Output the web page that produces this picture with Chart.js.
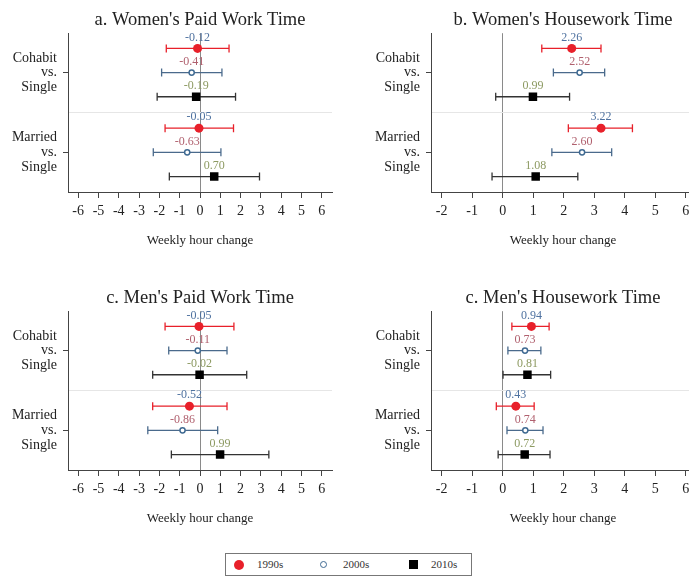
<!DOCTYPE html>
<html lang="en">
  <head>
    <meta charset="UTF-8" />
    <title>Weekly hour change by union status</title>
    <style>
      body { margin: 0; width: 689px; height: 586px; overflow: hidden; background: #fff; position: relative; font-family: "Liberation Serif", "DejaVu Serif", serif; }
      canvas { position: absolute; }
      #legend { position: absolute; left: 225px; top: 553px; width: 245px; height: 21px; border: 1px solid #777; font-size: 11px; color: #333; }
      #legend span { position: absolute; top: 4px; }
      .mk { position: absolute; }
    </style>
  </head>
  <body>
    <canvas id="wPaid" width="400" height="248" style="left:0;top:0"></canvas>
    <canvas id="wHouse" width="436" height="248" style="left:345px;top:0"></canvas>
    <canvas id="mPaid" width="400" height="248" style="left:0;top:278px"></canvas>
    <canvas id="mHouse" width="436" height="248" style="left:345px;top:278px"></canvas>

    <div id="legend">
      <div class="mk" style="left:8px;top:6px;width:10px;height:10px;border-radius:50%;background:#e8202a"></div>
      <span style="left:31px">1990s</span>
      <div class="mk" style="left:94px;top:7px;width:5px;height:5px;border-radius:50%;border:1.5px solid #3f6a92;background:#fff"></div>
      <span style="left:117px">2000s</span>
      <div class="mk" style="left:183px;top:6px;width:9px;height:9px;background:#000"></div>
      <span style="left:205px">2010s</span>
    </div>

    <script src="https://cdn.jsdelivr.net/npm/chart.js"></script>
    <script>
      // order in every array: cohabit 1990s, 2000s, 2010s, then married 1990s, 2000s, 2010s
      const decades = ["1990s", "2000s", "2010s"];
      const comparisons = [["Cohabit", "vs.", "Single"], ["Married", "vs.", "Single"]];
      const paidTicks = [-6, -5, -4, -3, -2, -1, 0, 1, 2, 3, 4, 5, 6];
      const houseTicks = [-2, -1, 0, 1, 2, 3, 4, 5, 6];

      const womenPaidEst = [-0.12, -0.41, -0.19, -0.05, -0.63, 0.70];
      const womenPaidLo = [-1.66, -1.89, -2.11, -1.72, -2.30, -1.51];
      const womenPaidHi = [1.43, 1.08, 1.75, 1.65, 1.03, 2.93];

      const womenHouseEst = [2.26, 2.52, 0.99, 3.22, 2.60, 1.08];
      const womenHouseLo = [1.28, 1.66, -0.23, 2.15, 1.61, -0.35];
      const womenHouseHi = [3.22, 3.34, 2.19, 4.25, 3.57, 2.46];

      const menPaidEst = [-0.05, -0.11, -0.02, -0.52, -0.86, 0.99];
      const menPaidLo = [-1.72, -1.54, -2.33, -2.33, -2.57, -1.41];
      const menPaidHi = [1.67, 1.33, 2.30, 1.33, 0.87, 3.39];

      const menHouseEst = [0.94, 0.73, 0.81, 0.43, 0.74, 0.72];
      const menHouseLo = [0.30, 0.17, 0.01, -0.21, 0.14, -0.15];
      const menHouseHi = [1.52, 1.25, 1.57, 1.03, 1.32, 1.55];

      // layout of the rows on the y scale
      const ROWS = [0, 1, 2, 3.3, 4.3, 5.3];
      const GROUP_TICKS = [1, 4.3];
      const SEP = 2.65;
      const SERIF = '"Liberation Serif", "DejaVu Serif", serif';

      const lineColors = ["#e8202a", "#4a6a8c", "#333333"];
      const markStyle = [
        { pointStyle: "circle", pointRadius: 4.5, backgroundColor: "#e8202a", borderColor: "#e8202a", pointBorderWidth: 0 },
        { pointStyle: "circle", pointRadius: 2.6, backgroundColor: "#ffffff", borderColor: "#3f6a92", pointBorderWidth: 1.5 },
        { pointStyle: "rect", pointRadius: 6, backgroundColor: "#000000", borderColor: "#000000", pointBorderWidth: 0 },
      ];
      const labelColors = ["#4f72a0", "#b0606e", "#8d9a62"];

      const valueLabels = {
        id: "valueLabels",
        afterDatasetsDraw(chart) {
          const { ctx, scales: { x, y } } = chart;
          ctx.save();
          ctx.font = "12px " + SERIF;
          ctx.textAlign = "center";
          ctx.textBaseline = "middle";
          chart.data.datasets.forEach((ds) => {
            if (!ds.labelColor) return;
            ctx.fillStyle = ds.labelColor;
            ds.data.forEach((p) => {
              ctx.fillText(p.x.toFixed(2), x.getPixelForValue(p.x), y.getPixelForValue(p.y) - 11);
            });
          });
          ctx.restore();
        },
      };

      function buildDatasets(est, lo, hi) {
        const sets = [];
        decades.forEach((dec, d) => {
          const ci = [];
          comparisons.forEach((c, g) => {
            const i = g * 3 + d;
            if (g > 0) ci.push({ x: null, y: null });
            ci.push({ x: lo[i], y: ROWS[i] }, { x: hi[i], y: ROWS[i] });
          });
          sets.push({
            label: dec + " CI",
            data: ci,
            showLine: true,
            spanGaps: false,
            borderColor: lineColors[d],
            borderWidth: 1.3,
            pointStyle: "line",
            rotation: 90,
            pointRadius: 4,
            pointBorderColor: lineColors[d],
            pointBorderWidth: 1.3,
            order: 2,
          });
          sets.push({
            label: dec,
            data: comparisons.map((c, g) => ({ x: est[g * 3 + d], y: ROWS[g * 3 + d] })),
            ...markStyle[d],
            labelColor: labelColors[d],
            order: 1,
          });
        });
        return sets;
      }

      // an empty axis on the right mirrors the label axis, so the title sits centred over the plot
      function makeChart(id, title, est, lo, hi, ticks, xMin, xMax, side) {
        return new Chart(document.getElementById(id), {
          type: "scatter",
          data: { datasets: buildDatasets(est, lo, hi) },
          options: {
            responsive: false,
            animation: false,
            layout: { padding: 0 },
            plugins: {
              legend: { display: false },
              tooltip: { enabled: false },
              title: {
                display: true,
                text: title,
                color: "#222",
                font: { family: SERIF, size: 18.5, weight: "normal", lineHeight: 1.2 },
                padding: { top: 9, bottom: 2 },
              },
            },
            scales: {
              x: {
                type: "linear",
                min: xMin,
                max: xMax,
                afterBuildTicks: (s) => { s.ticks = ticks.map((v) => ({ value: v })); },
                afterFit: (s) => { s.height = 56; },
                ticks: { color: "#222", font: { family: SERIF, size: 14 }, padding: 5, callback: (v) => String(v) },
                grid: {
                  color: (c) => (c.tick && c.tick.value === 0 ? "#8a8a8a" : "transparent"),
                  tickColor: "#444",
                  tickLength: 6,
                  lineWidth: 1,
                },
                border: { display: true, color: "#444", width: 1 },
                title: {
                  display: true,
                  text: "Weekly hour change",
                  color: "#222",
                  font: { family: SERIF, size: 13, lineHeight: 1.2 },
                  padding: { top: 0, bottom: 0 },
                },
              },
              y: {
                type: "linear",
                reverse: true,
                min: -0.63,
                max: 5.94,
                afterBuildTicks: (s) => {
                  s.ticks = [{ value: GROUP_TICKS[0] }, { value: SEP }, { value: GROUP_TICKS[1] }];
                },
                afterFit: (s) => { s.width = side; },
                ticks: {
                  color: "#222",
                  padding: 6,
                  font: { family: SERIF, size: 14, lineHeight: 1.05 },
                  callback: (v) => {
                    const g = GROUP_TICKS.indexOf(v);
                    return g < 0 ? "" : comparisons[g];
                  },
                },
                grid: {
                  color: (c) => (c.tick && c.tick.value === SEP ? "#e6e6e6" : "transparent"),
                  tickColor: (c) => (c.tick && c.tick.value === SEP ? "transparent" : "#444"),
                  tickLength: 5,
                  lineWidth: 1,
                },
                border: { display: true, color: "#444", width: 1 },
              },
              pad: {
                type: "linear",
                position: "right",
                afterFit: (s) => { s.width = side; },
                ticks: { display: false },
                grid: { display: false },
                border: { display: false },
              },
            },
          },
          plugins: [valueLabels],
        });
      }

      makeChart("wPaid", "a. Women's Paid Work Time", womenPaidEst, womenPaidLo, womenPaidHi, paidTicks, -6.5, 6.5, 68);
      makeChart("wHouse", "b. Women's Housework Time", womenHouseEst, womenHouseLo, womenHouseHi, houseTicks, -2.35, 6.3, 86);
      makeChart("mPaid", "c. Men's Paid Work Time", menPaidEst, menPaidLo, menPaidHi, paidTicks, -6.5, 6.5, 68);
      makeChart("mHouse", "c. Men's Housework Time", menHouseEst, menHouseLo, menHouseHi, houseTicks, -2.35, 6.3, 86);
    </script>
  </body>
</html>
